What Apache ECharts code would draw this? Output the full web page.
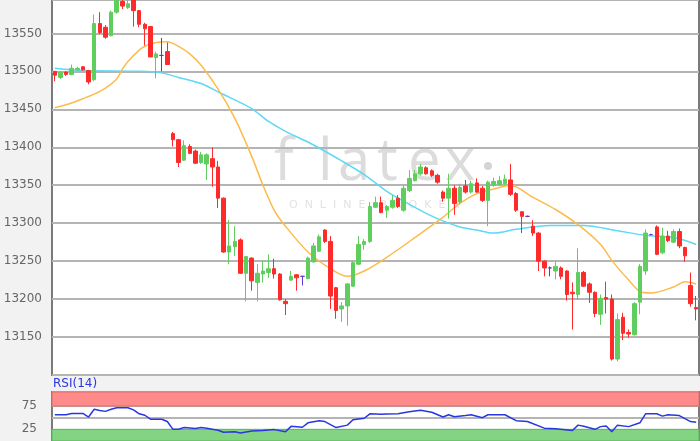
<!DOCTYPE html>
<html><head><meta charset="utf-8">
<script src="https://cdn.jsdelivr.net/npm/echarts@6/dist/echarts.min.js"></script>
<style>html,body{margin:0;padding:0;background:#f2f2f2}#c{width:700px;height:441px}</style>
</head><body><div id="c"></div>
<script>
// ---- data ----
const opens = [13500,13492,13499,13496,13502,13506,13501,13489,13563,13558,
13547,13578,13592,13584,13596,13580,13562,13559,13518,13521,
13526,13418,13410,13383,13401,13395,13380,13378,13385,13374,
13333,13262,13269,13278,13234,13254,13222,13233,13235,13240,
13233,13197,13225,13232,13230,13227,13249,13263,13291,13276,
13215,13187,13191,13217,13246,13272,13276,13321,13327,13317,
13321,13333,13317,13343,13356,13365,13373,13369,13363,13341,
13333,13346,13328,13349,13341,13353,13346,13330,13350,13351,
13352,13357,13339,13315,13309,13296,13287,13250,13241,13237,
13241,13237,13209,13206,13235,13220,13209,13180,13202,13200,
13121,13176,13156,13153,13196,13237,13285,13295,13261,13283,
13275,13289,13268,13218,13189];
const closes = [13495,13499,13496,13504,13504,13502,13486,13563,13551,13545,
13578,13596,13586,13589,13580,13562,13556,13519,13523,13521,
13509,13410,13380,13402,13392,13379,13390,13390,13374,13333,
13262,13270,13276,13234,13256,13224,13234,13237,13240,13233,
13199,13194,13230,13228,13230,13254,13270,13282,13276,13204,
13185,13191,13220,13248,13272,13276,13322,13327,13314,13322,
13330,13322,13346,13359,13365,13374,13365,13363,13354,13333,
13346,13326,13347,13341,13352,13341,13330,13354,13355,13356,
13358,13338,13317,13309,13309,13287,13250,13241,13241,13243,
13230,13206,13207,13235,13217,13209,13181,13201,13200,13121,
13173,13155,13154,13194,13243,13287,13285,13259,13283,13277,
13289,13270,13257,13194,13187];
const lows = [13487,13490,13494,13495,13501,13501,13483,13487,13549,13543,
13546,13576,13582,13582,13559,13558,13534,13519,13491,13500,
13509,13401,13374,13382,13391,13378,13378,13357,13348,13320,
13261,13246,13257,13233,13197,13211,13197,13222,13228,13227,
13198,13179,13224,13211,13218,13226,13248,13262,13274,13187,
13174,13170,13165,13216,13245,13265,13274,13320,13313,13307,
13319,13320,13315,13341,13355,13363,13364,13361,13352,13328,
13306,13311,13325,13339,13339,13340,13328,13296,13348,13349,
13350,13336,13315,13287,13308,13283,13237,13230,13230,13226,
13226,13198,13160,13199,13216,13195,13176,13166,13181,13119,
13118,13146,13149,13152,13180,13232,13284,13258,13259,13275,
13274,13267,13249,13190,13172];
const highs = [13500,13500,13500,13509,13506,13507,13502,13575,13578,13561,
13580,13600,13596,13596,13600,13581,13564,13560,13526,13544,
13538,13420,13411,13409,13404,13397,13394,13392,13400,13382,
13334,13304,13296,13280,13257,13255,13246,13250,13259,13253,
13234,13200,13237,13233,13230,13256,13274,13285,13292,13283,
13216,13196,13221,13250,13283,13279,13328,13335,13335,13324,
13337,13337,13350,13370,13370,13378,13375,13371,13365,13343,
13365,13350,13352,13357,13356,13359,13349,13356,13360,13362,
13364,13378,13341,13316,13310,13304,13288,13251,13243,13250,
13243,13238,13222,13267,13237,13222,13210,13206,13223,13206,
13181,13182,13160,13196,13246,13292,13286,13297,13294,13290,
13292,13293,13269,13235,13204];

// moving averages read at sample candles (candle index, value)
const maFastIdx = [0,2,5,7,9,11,12,13,15,16,18,20,22,24,26,29,32,35,37,39,41,45,49,52,55,59,64,69,72,75,78,81,85,89,93,97,99,102,104,106,110,112,114];
const maFastVal = [13452,13456,13464,13470,13478,13490,13503,13513,13528,13533,13538,13539,13533,13523,13508,13477,13438,13388,13350,13317,13296,13262,13240,13230,13237,13255,13281,13308,13326,13339,13345,13350,13334,13318,13298,13272,13251,13225,13210,13208,13216,13223,13220];
const maSlowIdx = [0,5,15,19,22,26,29,31,35,38,41,46,51,55,59,62,66,69,72,75,78,82,88,94,100,105,110,114];
const maSlowVal = [13504,13501,13500,13498,13492,13484,13473,13466,13451,13434,13421,13403,13382,13364,13342,13329,13313,13303,13295,13291,13287,13292,13297,13297,13290,13284,13281,13272];

// RSI(14) read at sample candles
const rsiIdx = [0,2,3,5,6,7,8,9,10,11,13,14,15,16,17,19,20,21,22,23,25,26,27,29,30,32,33,35,37,39,41,42,44,45,47,48,50,52,53,55,56,58,59,61,63,65,67,69,70,71,73,74,76,77,80,82,84,87,89,92,93,94,96,97,98,99,100,102,104,105,107,108,109,111,113,114];
const rsiVal = [56.3,56.3,59,59,51.3,67.9,65.4,63.5,67.9,71.2,71.2,66.7,58.3,55.2,46.7,46.7,41.7,25,25,28.8,26.9,28.8,27.5,23.1,18.7,19.8,17.3,21.2,22.4,24.4,19.8,31.4,29.4,39,43.6,41.7,28.8,34,45.6,48.7,58.3,57.1,57.7,58.3,62.9,66,61.5,51.3,56.3,51.9,54.4,56.3,50,56.3,56.3,43.6,41.7,27.5,26.3,22.5,34,31.4,25,30.8,32.1,19.8,34,30.8,39,58.3,58.3,53.3,56.3,54.4,41.7,40.4];

const priceTicks = [13150,13200,13250,13300,13350,13400,13450,13500,13550];
const rsiTicks = [25,75];
const rsiOverbought = 75, rsiOversold = 25;

// ---- chart ----
const UP = '#5fce5f', DOWN = '#ff2a2a', DOJI = '#6236d6';
const categories = opens.map((_, i) => String(i));
const candles = opens.map((o, i) => {
  const item = {value: [o, closes[i], lows[i], highs[i]]};
  if (o === closes[i]) item.itemStyle = {color: DOJI, color0: DOJI, borderColor: DOJI, borderColor0: DOJI, borderColorDoji: DOJI};
  return item;
});
const pairs = (ix, vs) => ix.map((x, k) => [x, vs[k]]);

const chart = echarts.init(document.getElementById('c'), null, {renderer: 'canvas'});
const font = 'DejaVu Sans';
const wm = '400 58px "Open Sans"';
const wmColor = '#dcdcdc';
chart.setOption({
  animation: false,
  backgroundColor: '#f2f2f2',
  graphic: [
    {type: 'rect', z: -5, shape: {x: 52, y: 0, width: 647, height: 375}, style: {fill: '#ffffff'}, silent: true},
    {type: 'rect', z: -5, shape: {x: 52, y: 392, width: 647, height: 60}, style: {fill: '#ffffff'}, silent: true},
    {type: 'text', z: -4, x: 274, y: 134, style: {text: 'f', font: wm, fill: wmColor}, silent: true},
    {type: 'text', z: -4, x: 318, y: 134, style: {text: 'l', font: wm, fill: wmColor}, silent: true},
    {type: 'text', z: -4, x: 338, y: 134, style: {text: 'a', font: wm, fill: wmColor}, silent: true},
    {type: 'text', z: -4, x: 377, y: 134, style: {text: 't', font: wm, fill: wmColor}, silent: true},
    {type: 'text', z: -4, x: 408, y: 134, style: {text: 'e', font: wm, fill: wmColor}, silent: true},
    {type: 'text', z: -4, x: 445, y: 134, style: {text: 'x', font: wm, fill: wmColor}, silent: true},
    {type: 'circle', z: -4, shape: {cx: 488, cy: 166, r: 4}, style: {fill: '#d4d4d4'}, silent: true},
    {type: 'text', z: -4, x: 289, y: 200, style: {text: 'O  N  L  I  N  E    B  R  O  K  E  R', font: '400 11px "DejaVu Sans"', fill: '#e2e2e2'}, silent: true},
    {type: 'text', z: 5, x: 53, y: 378, style: {text: 'RSI(14)', font: '400 12px "DejaVu Sans"', fill: '#2a36e0'}, silent: true}
  ],
  grid: [
    {left: 52, right: 1, top: -3, height: 378, show: true, backgroundColor: 'transparent', borderColor: '#7a7a7a', borderWidth: 2},
    {left: 52, right: 1, top: 392, height: 54.6, show: true, backgroundColor: 'transparent', borderColor: '#7a7a7a', borderWidth: 2}
  ],
  xAxis: [
    {type: 'category', gridIndex: 0, data: categories, boundaryGap: true, axisLine: {show: false}, axisTick: {show: false}, axisLabel: {show: false}, splitLine: {show: false}},
    {type: 'category', gridIndex: 1, data: categories, boundaryGap: true, axisLine: {show: false}, axisTick: {show: false}, axisLabel: {show: false}, splitLine: {show: false}}
  ],
  yAxis: [
    {type: 'value', gridIndex: 0, min: 13100, max: 13594, interval: 50,
     axisLine: {show: false}, axisTick: {show: false},
     axisLabel: {color: '#666', fontFamily: font, fontSize: 12, margin: 10,
       formatter: v => priceTicks.includes(v) ? String(v) : ''},
     splitLine: {show: true, lineStyle: {color: '#b4b4b4', width: 2}}},
    {type: 'value', gridIndex: 1, min: 0, max: 105, interval: 25,
     axisLine: {show: false}, axisTick: {show: false},
     axisLabel: {color: '#666', fontFamily: font, fontSize: 12, margin: 15,
       formatter: v => rsiTicks.includes(v) ? String(v) : ''},
     splitLine: {show: true, lineStyle: {color: '#b4b4b4', width: 2}}}
  ],
  series: [
    {type: 'line', name: 'MA slow', xAxisIndex: 0, yAxisIndex: 0, z: 2,
     data: pairs(maSlowIdx, maSlowVal), smooth: 0.3, symbol: 'none',
     lineStyle: {color: '#5dd8f5', width: 1.5}},
    {type: 'line', name: 'MA fast', xAxisIndex: 0, yAxisIndex: 0, z: 2,
     data: pairs(maFastIdx, maFastVal), smooth: 0.3, symbol: 'none',
     lineStyle: {color: '#fdbb4a', width: 1.5}},
    {type: 'candlestick', xAxisIndex: 0, yAxisIndex: 0, z: 3, data: candles, barWidth: 4, clip: true,
     itemStyle: {color: UP, color0: DOWN, borderColor: UP, borderColor0: DOWN, borderColorDoji: DOJI, borderWidth: 1}},
    {type: 'line', name: 'RSI', xAxisIndex: 1, yAxisIndex: 1, z: 3,
     data: pairs(rsiIdx, rsiVal), symbol: 'none', lineStyle: {color: '#2a36e0', width: 1.5},
     markArea: {silent: true, data: [
       [{yAxis: rsiOverbought, itemStyle: {color: '#ff8a8a', borderColor: '#dd6a6a', borderWidth: 1}}, {yAxis: 105}],
       [{yAxis: 0, itemStyle: {color: '#82d482', borderColor: '#5fb55f', borderWidth: 1}}, {yAxis: rsiOversold}]
     ]}}
  ]
});
</script></body></html>
